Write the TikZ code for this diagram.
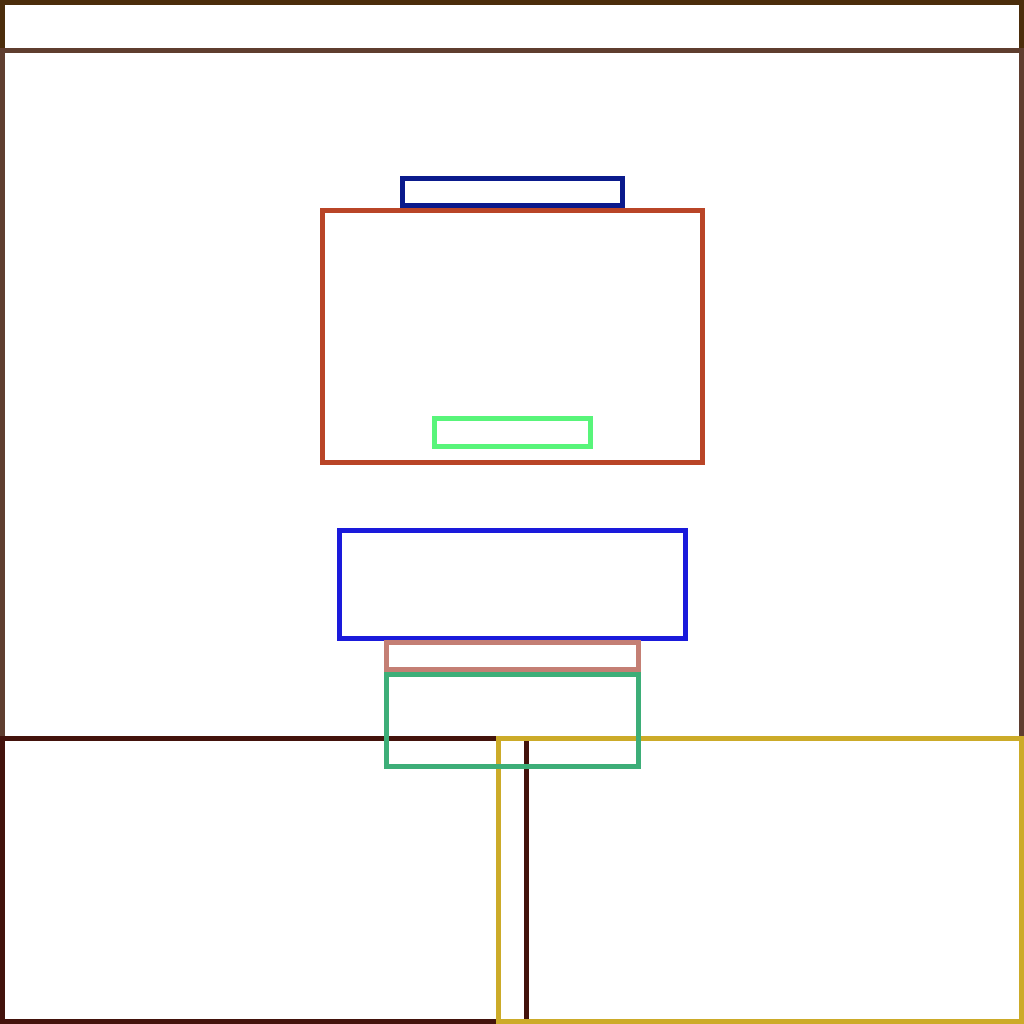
\documentclass[tikz,border=0pt]{standalone}
\usepackage{xcolor}
\usepackage{tikz}

\definecolor{topbrown}{RGB}{75,45,11}
\definecolor{pagebrown}{RGB}{95,62,47}
\definecolor{navybar}{RGB}{10,26,140}
\definecolor{rust}{RGB}{185,69,39}
\definecolor{mint}{RGB}{88,245,122}
\definecolor{royal}{RGB}{26,26,219}
\definecolor{rosy}{RGB}{196,127,116}
\definecolor{teal}{RGB}{61,174,120}
\definecolor{darkbrown}{RGB}{67,19,12}
\definecolor{mustard}{RGB}{204,171,41}

\begin{document}
\begin{tikzpicture}[
		%Global config
		x=0.01cm,
		y=-0.01cm,
		line width=0.05cm,
		%Styles
		box/.style={
			draw=#1,
			line join=miter,
		},
		]
		\useasboundingbox (0,0) rectangle (1024,1024);
		
		% frame
		\draw[box=topbrown] (2.5,2.5) rectangle (1021.5,50.5);
		\draw[box=pagebrown] (2.5,50.5) rectangle (1021.5,1021.5);
		
		% upper block
		\draw[box=navybar] (402.5,178.5) rectangle (622.5,205.5);
		\draw[box=rust] (322.5,210.5) rectangle (702.5,462.5);
		\draw[box=mint] (434.5,418.5) rectangle (590.5,446.5);
		
		% middle block
		\draw[box=royal] (339.5,530.5) rectangle (685.5,638.5);
		
		% bottom panels
		\draw[box=darkbrown] (2.5,738.5) rectangle (526.5,1021.5);
		\draw[box=mustard] (498.5,738.5) rectangle (1021.5,1021.5);
		
		\draw[box=teal] (386.5,674.5) rectangle (638.5,766.5);
		\draw[box=rosy] (386.5,642.5) rectangle (638.5,669.5);
	\end{tikzpicture}
\end{document}
